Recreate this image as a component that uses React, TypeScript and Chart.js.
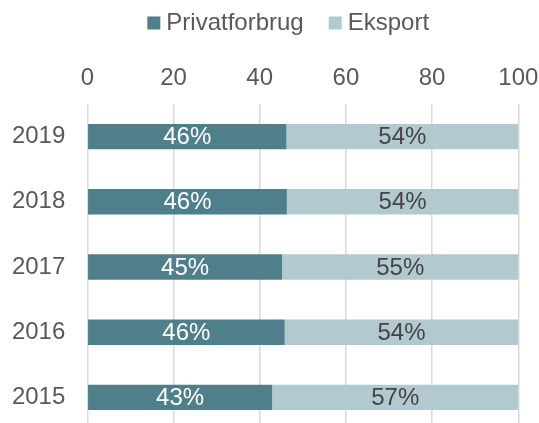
import React, { useEffect, useRef } from "react";
import { Chart, registerables } from "chart.js";

Chart.register(...registerables);

const years = ["2019", "2018", "2017", "2016", "2015"];
const privatforbrug = [46.2, 46.3, 45.2, 45.8, 42.9];
const eksport = [53.8, 53.7, 54.8, 54.2, 57.1];
const seriesNames = ["Privatforbrug", "Eksport"];
const xTicks = [0, 20, 40, 60, 80, 100];

const DARK = "#4F7F8B";
const LIGHT = "#B1C9CF";
const FONT = "'Liberation Sans', Arial, sans-serif";
const FS = 24;

const barLabels = {
  id: "barLabels",
  afterDatasetsDraw(chart: any) {
    const ctx = chart.ctx;
    ctx.save();
    ctx.font = `${FS}px ${FONT}`;
    ctx.textAlign = "center";
    ctx.textBaseline = "middle";
    chart.data.datasets.forEach((ds: any, di: number) => {
      const meta = chart.getDatasetMeta(di);
      meta.data.forEach((el: any, i: number) => {
        const v = ds.data[i];
        const cx = (el.x + el.base) / 2;
        ctx.fillStyle = di === 0 ? "#FFFFFF" : "#454545";
        ctx.fillText(Math.round(v) + "%", cx, el.y + 1);
      });
    });
    ctx.restore();
  },
};

const legendShift = {
  id: "legendShift",
  afterLayout(chart: any) {
    const lg = chart.legend;
    if (lg) {
      lg.left += 21.7;
      lg.right += 21.7;
    }
  },
};

export default function App() {
  const ref = useRef<HTMLCanvasElement | null>(null);
  useEffect(() => {
    if (!ref.current) return;
    const chart = new Chart(ref.current, {
      type: "bar",
      data: {
        labels: years,
        datasets: [
          {
            label: seriesNames[0],
            data: privatforbrug,
            backgroundColor: DARK,
            categoryPercentage: 1,
            barPercentage: 0.39,
          },
          {
            label: seriesNames[1],
            data: eksport,
            backgroundColor: LIGHT,
            categoryPercentage: 1,
            barPercentage: 0.39,
          },
        ],
      },
      options: {
        indexAxis: "y",
        responsive: false,
        animation: false,
        layout: { padding: { top: 0, left: 0, right: 0, bottom: 0 } },
        plugins: {
          legend: {
            position: "top",
            align: "center",
            labels: {
              usePointStyle: true,
              pointStyle: "rect",
              boxWidth: 1,
              boxHeight: 13,
              padding: 31,
              color: "#595959",
              font: { size: FS, family: FONT },
            },
          },
          tooltip: { enabled: false },
        },
        scales: {
          x: {
            position: "top",
            stacked: true,
            min: 0,
            max: 100,
            afterBuildTicks(scale: any) {
              scale.ticks = xTicks.map((v) => ({ value: v }));
            },
            afterFit(scale: any) {
              scale.height = 59;
              scale.paddingLeft = 0;
              scale.paddingRight = 20.7;
            },
            grid: { color: "#D9D9D9", lineWidth: 1.5, drawTicks: false },
            border: { display: false },
            ticks: {
              color: "#595959",
              padding: 11,
              font: { size: FS, family: FONT },
            },
          },
          y: {
            stacked: true,
            afterFit(scale: any) {
              scale.width = 87.3;
              scale.paddingTop = 0;
              scale.paddingBottom = 0;
            },
            grid: { display: false, drawTicks: false },
            border: { display: false },
            ticks: {
              color: "#595959",
              padding: 22,
              font: { size: FS, family: FONT },
            },
          },
        },
      },
      plugins: [barLabels, legendShift],
    });
    return () => chart.destroy();
  }, []);
  return (
    <div
      style={{
        position: "fixed",
        left: 0,
        top: 0,
        width: 539,
        height: 423,
        overflow: "hidden",
        background: "#FFFFFF",
      }}
    >
      <canvas
        ref={ref}
        width={539}
        height={450}
        style={{ position: "absolute", left: 0, top: -20, width: 539, height: 450 }}
      />
    </div>
  );
}
